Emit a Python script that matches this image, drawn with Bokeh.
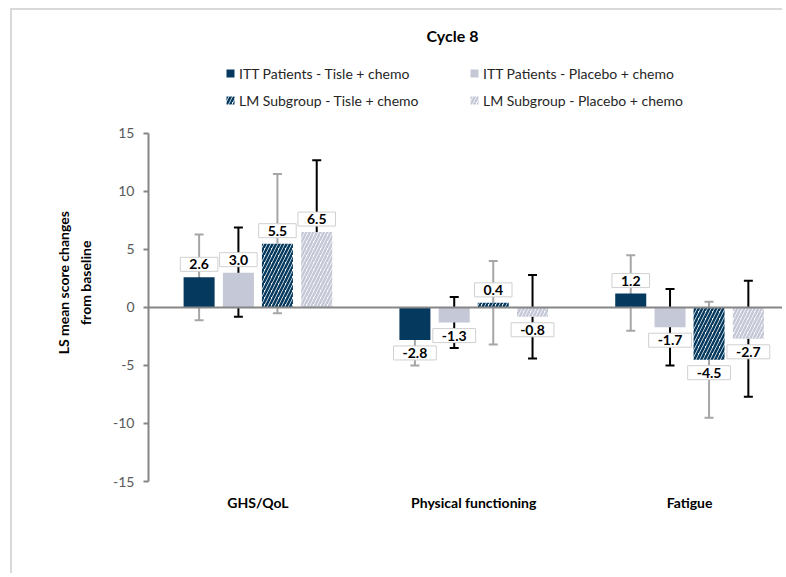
import numpy as np
from bokeh.plotting import figure
from bokeh.models import (ColumnDataSource, Range1d, FixedTicker, Whisker, TeeHead,
                          Label, Legend, LegendItem, Span)
from bokeh.embed import file_html
from bokeh.resources import INLINE

# ---------------- data ----------------
categories = ["GHS/QoL", "Physical functioning", "Fatigue"]
series_names = ["ITT Patients - Tisle + chemo", "ITT Patients - Placebo + chemo",
                "LM Subgroup - Tisle + chemo", "LM Subgroup - Placebo + chemo"]

itt_tisle = [2.6, -2.8, 1.2]
itt_tisle_low = [-1.1, -5.0, -2.0]
itt_tisle_high = [6.3, -0.5, 4.5]

itt_placebo = [3.0, -1.3, -1.7]
itt_placebo_low = [-0.8, -3.5, -5.0]
itt_placebo_high = [6.9, 0.9, 1.6]

lm_tisle = [5.5, 0.4, -4.5]
lm_tisle_low = [-0.5, -3.2, -9.5]
lm_tisle_high = [11.5, 4.0, 0.5]

lm_placebo = [6.5, -0.8, -2.7]
lm_placebo_low = [0.4, -4.4, -7.7]
lm_placebo_high = [12.7, 2.8, 2.3]

y_ticks = [-15, -10, -5, 0, 5, 10, 15]
y_tick_labels = ["-15", "-10", "-5", "0", "5", "10", "15"]
y_axis_bounds = (-15, 15)
y_axis_title_lines = ["LS mean score changes", "from baseline"]

# ---------------- styles ----------------
FONT = "Lato"
NAVY = "#053a5e"
LIGHT = "#c5c8d6"
GREY_ERR = "#a6a6a6"
BLACK_ERR = "#000000"

styles = [
    dict(fill=NAVY, hatch=None, hcol=None, err=GREY_ERR),
    dict(fill=LIGHT, hatch=None, hcol=None, err=BLACK_ERR),
    dict(fill="white", hatch="/", hcol=NAVY, err=GREY_ERR),
    dict(fill="white", hatch="/", hcol=LIGHT, err=BLACK_ERR),
]
offsets = [-0.2725, -0.0904, 0.0904, 0.2725]
bar_w = 0.1437

series = [
    (itt_tisle, itt_tisle_low, itt_tisle_high),
    (itt_placebo, itt_placebo_low, itt_placebo_high),
    (lm_tisle, lm_tisle_low, lm_tisle_high),
    (lm_placebo, lm_placebo_low, lm_placebo_high),
]

# frame spans the full canvas height above the axis so that the legend and
# title (drawn inside the frame) are not clipped; the axis is bounded to +-15
W, H = 772, 565
p = figure(width=W, height=H, output_backend="svg", toolbar_location=None,
           title=None,
           x_range=Range1d(-0.007, 2.94), y_range=Range1d(-15, 25.6),
           min_border_left=136, min_border_right=0, min_border_top=0,
           min_border_bottom=94, background_fill_color="white",
           border_fill_color="white", outline_line_color=None)
p.styles = {"margin": "8px 0px 0px 10px", "border-left": "2px solid #d9d9d9",
            "border-top": "2px solid #d9d9d9"}
p.xgrid.visible = False
p.ygrid.visible = False

cat_pos = np.arange(len(categories)) + 0.5

legend_items = []
for (vals, lo, hi), st, name, off in zip(series, styles, series_names, offsets):
    vals = np.array(vals)
    src = ColumnDataSource(dict(x=cat_pos + off, top=vals, lo=lo, hi=hi))
    kw = dict(x="x", top="top", bottom=0, width=bar_w, source=src,
              fill_color=st["fill"], line_color=None)
    if st["hatch"]:
        kw.update(hatch_pattern=st["hatch"], hatch_color=st["hcol"],
                  hatch_scale=7, hatch_weight=2.5)
    r = p.vbar(**kw)
    legend_items.append(LegendItem(label=name, renderers=[r]))
    st["src"] = src
    st["vals"] = vals
    st["xs"] = cat_pos + off

zero = Span(location=0, dimension="width", line_color="#868686", line_width=2)
p.add_layout(zero)

for st in styles:
    src = st["src"]
    wk = Whisker(source=src, base="x", upper="hi", lower="lo",
                 line_color=st["err"], line_width=2,
                 upper_head=TeeHead(size=9, line_color=st["err"], line_width=2),
                 lower_head=TeeHead(size=9, line_color=st["err"], line_width=2))
    p.add_layout(wk)

for st in styles:
    for xv, v in zip(st["xs"], st["vals"]):
        p.add_layout(Label(x=float(xv), y=float(v), text=f"{v:.1f}",
                           y_offset=13 if v >= 0 else -13,
                           text_align="center", text_baseline="middle",
                           text_font=FONT, text_font_size="14px",
                           text_font_style="bold", text_color="black",
                           background_fill_color="white",
                           border_line_color="#d0d0d0", border_line_width=1,
                           padding=(9, 2)))

# axes
p.yaxis.ticker = FixedTicker(ticks=y_ticks)
p.yaxis.major_label_overrides = {t: s for t, s in zip(y_ticks, y_tick_labels)}
p.yaxis.bounds = y_axis_bounds
p.yaxis.axis_line_color = "#868686"
p.yaxis.axis_line_width = 2
p.yaxis.major_tick_line_color = "#868686"
p.yaxis.major_tick_line_width = 2
p.yaxis.major_tick_in = 0
p.yaxis.major_tick_out = 5
p.yaxis.minor_tick_line_color = None
p.yaxis.major_label_text_font = FONT
p.yaxis.major_label_text_font_size = "14px"
p.yaxis.major_label_text_color = "#595959"
p.yaxis.major_label_standoff = 9
# the axis title is centred on the whole frame; trailing em-spaces move the
# visible text down towards the -15..15 part of the axis
pad = "\u2003" * 7
p.yaxis.axis_label = "\n".join(line + pad for line in y_axis_title_lines)
p.yaxis.axis_label_text_font = FONT
p.yaxis.axis_label_text_font_size = "14px"
p.yaxis.axis_label_text_font_style = "bold"
p.yaxis.axis_label_text_color = "black"
p.yaxis.axis_label_text_line_height = 1.3
p.yaxis.axis_label_standoff = 16

p.xaxis.ticker = FixedTicker(ticks=list(cat_pos))
p.xaxis.major_label_overrides = {float(c): t for c, t in zip(cat_pos, categories)}
p.xaxis.axis_line_color = None
p.xaxis.major_tick_line_color = None
p.xaxis.minor_tick_line_color = None
p.xaxis.major_label_text_font = FONT
p.xaxis.major_label_text_font_size = "14px"
p.xaxis.major_label_text_font_style = "bold"
p.xaxis.major_label_text_color = "black"
p.xaxis.major_label_standoff = 6

# chart title (inside the frame, above the axis range)
p.add_layout(Label(x=304, y=446, x_units="screen", y_units="screen",
                   text="Cycle 8", text_align="center", text_baseline="middle",
                   text_font=FONT, text_font_size="16px", text_font_style="bold",
                   text_color="black"))

legend = Legend(items=legend_items, location=(77, 371), orientation="horizontal",
                ncols=2, glyph_width=10, glyph_height=10, label_standoff=4,
                label_width=223, label_height=20, spacing=7, padding=0, margin=0,
                border_line_color=None, background_fill_alpha=0,
                label_text_font=FONT, label_text_font_size="14px",
                label_text_color="#262626")
p.add_layout(legend, "center")

open("out.html", "w").write(file_html(p, INLINE))
